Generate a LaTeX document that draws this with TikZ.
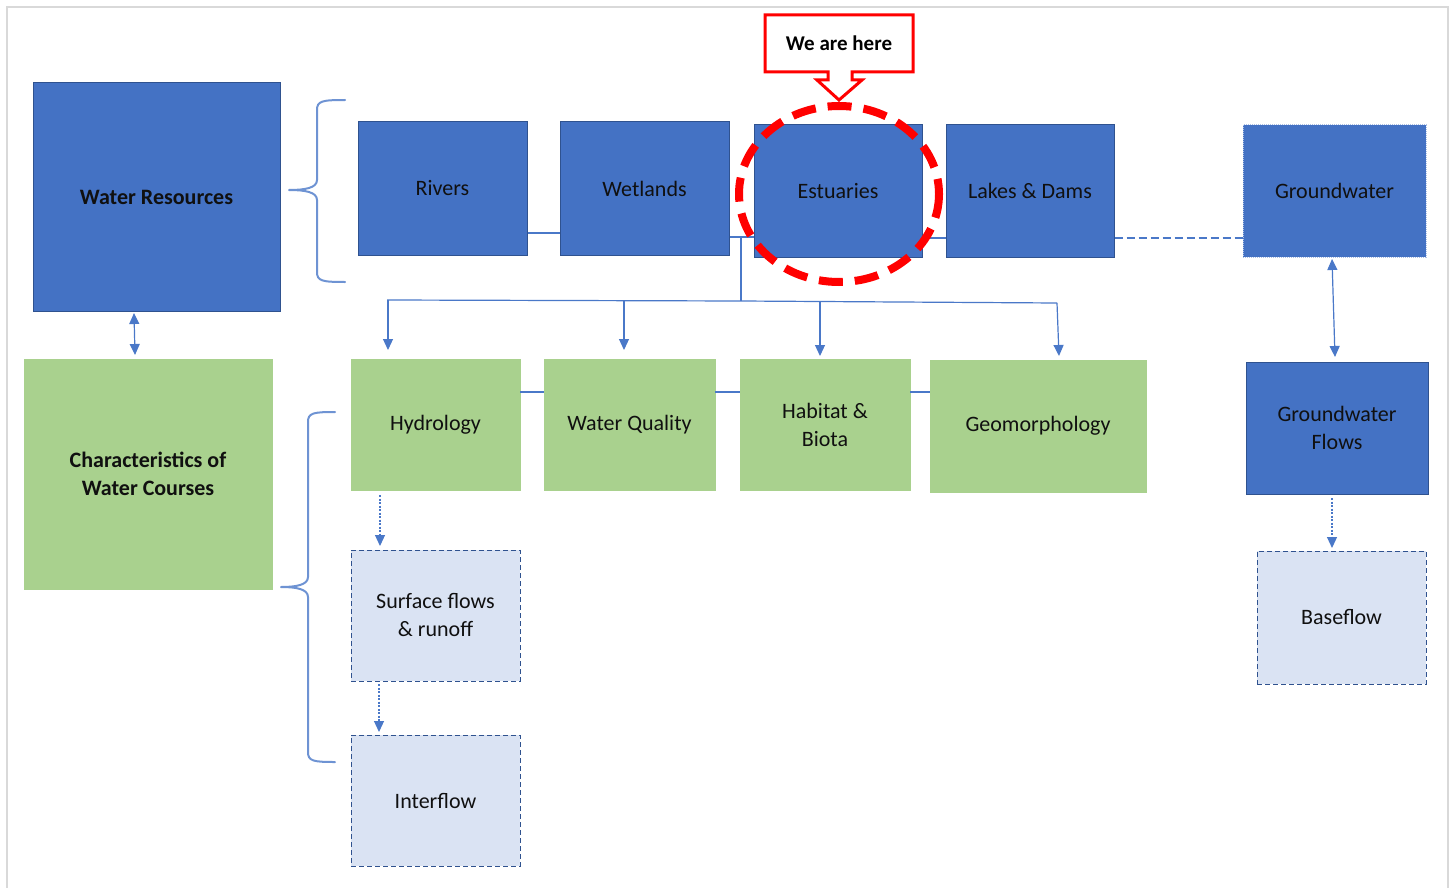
\documentclass[tikz,border=0pt]{standalone}
\usepackage{fontspec}
\setmainfont{Carlito}
\usetikzlibrary{arrows.meta}
\definecolor{dblue}{HTML}{4472C4}
\definecolor{bord}{HTML}{2F528F}
\definecolor{lgreen}{HTML}{A9D18E}
\definecolor{lblue}{HTML}{DAE3F3}
\definecolor{conn}{HTML}{4A78C8}
\definecolor{txt}{HTML}{101010}
\definecolor{framegrey}{HTML}{D9D9D9}
\definecolor{callred}{HTML}{FF0000}
\begin{document}
\begin{tikzpicture}[x=1pt,y=-1pt,
  base/.style={rectangle, inner sep=2pt, align=center, text=txt, font=\fontsize{22}{28}\selectfont},
  bluebox/.style={base, fill=dblue, draw=bord, line width=1pt},
  gwbox/.style={base, fill=dblue, draw=lblue!70!dblue, line width=1pt, dash pattern=on 1pt off 1pt},
  greenbox/.style={base, fill=lgreen, draw=lgreen, line width=0.5pt},
  lightbox/.style={base, fill=lblue, draw=bord, line width=1pt, dash pattern=on 5pt off 3pt},
  sz/.style 2 args={minimum width=#1pt, minimum height=#2pt},
  conline/.style={draw=conn, line width=1.2pt},
  arr/.style={conline, -{Triangle[length=11pt,width=10pt]}},
  darr/.style={conline, {Triangle[length=11pt,width=10pt]}-{Triangle[length=11pt,width=10pt]}},
  dotarr/.style={conline, dash pattern=on 2pt off 1.5pt, -{Triangle[length=11pt,width=10pt]}},
  brace/.style={draw=conn!80, line width=2pt, line cap=round, line join=round}
]
\useasboundingbox (0,0) rectangle (1453,888);
\draw[framegrey, line width=2pt] (7,7) rectangle (1448,900);

% top row
\node[bluebox, sz={247}{228}, font=\fontsize{22}{28}\selectfont\bfseries] (wr) at (156.5,197) {Water Resources};
\node[bluebox, sz={169}{133}] (rivers) at (442.5,188.5) {Rivers};
\node[bluebox, sz={169}{133}] (wetlands) at (644.5,188.5) {Wetlands};
\node[bluebox, sz={168}{132}] (estuaries) at (838,191) {Estuaries};
\node[bluebox, sz={168}{132}] (lakes) at (1030,191) {Lakes \& Dams};
\node[gwbox, sz={183}{132}] (gw) at (1334.5,191) {Groundwater};

% second row
\node[greenbox, sz={248}{230}, font=\fontsize{22}{28}\selectfont\bfseries] (char) at (148,474) {Characteristics of\\Water Courses};
\node[greenbox, sz={169}{131}] (hydro) at (435.5,424.5) {Hydrology};
\node[greenbox, sz={171}{131}] (wq) at (629.5,424.5) {Water Quality};
\node[greenbox, sz={170}{131}] (hab) at (825,424.5) {Habitat \&\\Biota};
\node[greenbox, sz={216}{132}] (geo) at (1038,426) {Geomorphology};
\node[bluebox, sz={182}{132}] (gwf) at (1337,428) {Groundwater\\Flows};

% lower boxes
\node[lightbox, sz={169}{131}] (surf) at (435.5,615.5) {Surface flows\\\& runoff};
\node[lightbox, sz={169}{131}] (inter) at (435.5,800.5) {Interflow};
\node[lightbox, sz={169}{133}] (base) at (1341.5,617.5) {Baseflow};

% top row links
\draw[conline] (rivers.east |- 0,233) -- (wetlands.west |- 0,233);
\draw[conline] (wetlands.east |- 0,237) -- (estuaries.west |- 0,237);
\draw[conline] (estuaries.east |- 0,238) -- (lakes.west |- 0,238);
\draw[conline, dash pattern=on 8pt off 4pt] (lakes.east |- 0,238) -- (gw.west |- 0,238);

% bus to green row
\coordinate (j) at (741,237);
\coordinate (busL) at (387,300);
\coordinate (busM) at (741,301);
\coordinate (busR) at (1057,303);
\draw[conline] (j) -- (busM);
\draw[conline] (busL) -- (busM) -- (busR);
\draw[arr] (388,300) -- (388,350);
\draw[arr] (624,301) -- (624,350);
\draw[arr] (820,302) -- (820,356);
\draw[arr] (busR) -- (1059,356);

% green row links
\draw[conline] (hydro.east |- 0,392) -- (wq.west |- 0,392);
\draw[conline] (wq.east |- 0,392) -- (hab.west |- 0,392);
\draw[conline] (hab.east |- 0,392) -- (geo.west |- 0,392);

% double arrows
\draw[darr] (134,313) -- (135,355);
\draw[darr] (1332,259) -- (1335,357);

% dotted arrows
\draw[dotarr] (380,495) -- (380,546);
\draw[dotarr] (379,684) -- (379,732);
\draw[dotarr] (1332,498) -- (1332,548);

% braces
\draw[brace] (345,100) .. controls (322,100) and (317,101) .. (317,110) -- (317,180)
  .. controls (317,188) and (305,190) .. (289,190)
  .. controls (305,190) and (317,192) .. (317,200) -- (317,272)
  .. controls (317,281) and (322,282) .. (345,282);
\draw[brace] (335,412) .. controls (313,412) and (308,413) .. (308,422) -- (308,577)
  .. controls (308,585) and (296,587) .. (281,587)
  .. controls (296,587) and (308,589) .. (308,597) -- (308,752)
  .. controls (308,761) and (313,762) .. (335,762);

% highlight circle
\draw[callred, line width=8pt, dash pattern=on 24pt off 12pt] (839,194) ellipse [x radius=100, y radius=88];

% callout
\draw[callred, fill=white, line width=3pt, line join=miter]
  (765,15) -- (913,15) -- (913,72) -- (852,72) -- (852,80) -- (862,80) -- (839,100)
  -- (817,80) -- (828,80) -- (828,72) -- (765,72) -- cycle;
\node[base, font=\fontsize{21}{26}\selectfont\bfseries, text=black] (here) at (839,43) {We are here};
\end{tikzpicture}
\end{document}
